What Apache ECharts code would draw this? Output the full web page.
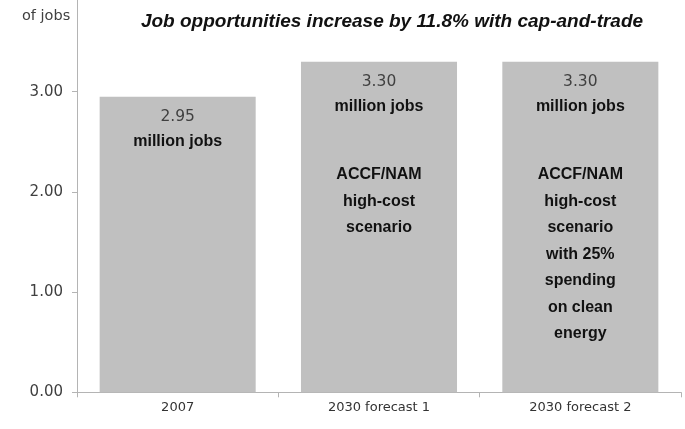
<!DOCTYPE html>
<html>
<head>
<meta charset="utf-8">
<script src="https://cdn.jsdelivr.net/npm/echarts@6/dist/echarts.min.js"></script>
<style>
  html, body { margin: 0; padding: 0; background: #fff; overflow: hidden; }
  /* canvas runs 10px above the page so the top of the value axis sits just past the edge */
  #chart { width: 685px; height: 439px; margin-top: -10px; }
</style>
</head>
<body>
<div id="chart"></div>
<script>
// Employment totals, in millions of jobs
const categories = ['2007', '2030 forecast 1', '2030 forecast 2'];
const jobs = [2.95, 3.30, 3.30];
const notes = [
  '',
  'ACCF/NAM\nhigh-cost\nscenario',
  'ACCF/NAM\nhigh-cost\nscenario\nwith 25%\nspending\non clean\nenergy'
];
const yTicks = [0, 1, 2, 3];

const SANS = '"Liberation Sans", Arial, sans-serif';
const WIDE = '"DejaVu Sans", sans-serif';
const SHIFT = 10; // vertical offset of the canvas above the page

const chart = echarts.init(document.getElementById('chart'));

chart.setOption({
  animation: false,
  backgroundColor: '#ffffff',
  title: {
    text: 'Job opportunities increase by 11.8% with cap-and-trade',
    left: 387,
    textAlign: 'center',
    top: 7 + SHIFT,
    textStyle: { fontFamily: SANS, fontSize: 19, fontWeight: 'bold', fontStyle: 'italic', color: '#111' }
  },
  graphic: [{
    type: 'text',
    left: 22,
    top: 9 + SHIFT,
    style: { text: 'of jobs', fontFamily: WIDE, fontSize: 14.5, fill: '#404040' }
  }],
  grid: { left: 77, right: 4, top: 1.5, bottom: 36.7, containLabel: false },
  xAxis: {
    type: 'category',
    data: categories,
    axisLine: { lineStyle: { color: '#b4b4b4', width: 1 } },
    axisTick: { show: true, length: 5, lineStyle: { color: '#b4b4b4' } },
    axisLabel: { fontFamily: WIDE, fontSize: 13, color: '#333', margin: 9 }
  },
  yAxis: {
    type: 'value',
    min: 0,
    max: 4,
    interval: 1,
    axisLine: { show: true, lineStyle: { color: '#b4b4b4', width: 1 } },
    axisTick: { show: true, length: 5, lineStyle: { color: '#b4b4b4' } },
    splitLine: { show: false },
    axisLabel: {
      fontFamily: WIDE, fontSize: 15, color: '#404040', margin: 14,
      formatter: v => (yTicks.indexOf(v) >= 0 ? v.toFixed(2) : '')
    }
  },
  series: [{
    type: 'bar',
    data: jobs,
    barWidth: '77.5%',
    itemStyle: { color: '#c0c0c0' },
    label: {
      show: true,
      position: 'insideTop',
      distance: 8,
      formatter: p => {
        let s = '{v|' + p.value.toFixed(2) + '}\n{b|million jobs}';
        const n = notes[p.dataIndex];
        if (n) s += '\n{gap| }\n' + n.split('\n').map(t => '{b|' + t + '}').join('\n');
        return s;
      },
      rich: {
        v: { fontFamily: WIDE, fontSize: 15.5, color: '#404040', lineHeight: 24, align: 'center' },
        b: { fontFamily: SANS, fontSize: 16, fontWeight: 'bold', color: '#111', lineHeight: 26.5, align: 'center' },
        gap: { fontSize: 10, lineHeight: 41.5 }
      }
    }
  }]
});
</script>
</body>
</html>
